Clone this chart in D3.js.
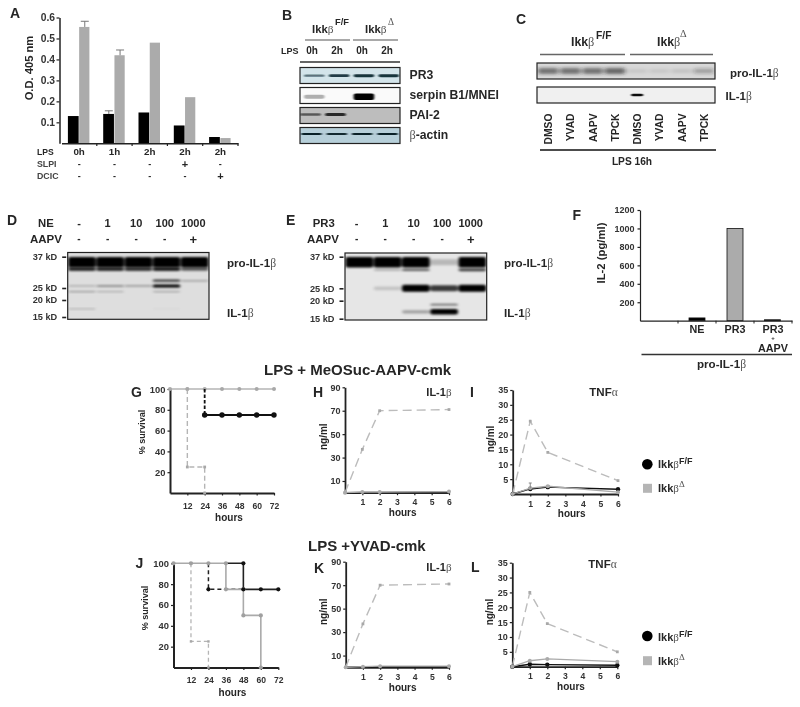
<!DOCTYPE html>
<html><head><meta charset="utf-8">
<script src="https://cdn.jsdelivr.net/npm/d3@7/dist/d3.min.js"></script>
<style>
html,body{margin:0;padding:0;background:#fff}
svg{display:block;filter:blur(0.35px)}
text{font-family:"Liberation Sans",Arial,sans-serif;font-weight:bold;fill:#262626}
</style></head><body><div id="c"></div>
<script>
// Panel A
const aGroups=["0h","1h","2h","2h ","2h  "];
const aBlack=[0.13,0.14,0.147,0.085,0.03];
const aGray=[0.555,0.42,0.48,0.22,0.025];
const aBlackErr=[0,0.015,0,0,0];
const aGrayErr=[0.027,0.025,0,0,0];
const aTicks=[0.1,0.2,0.3,0.4,0.5,0.6];
const aSLPI=["-","-","-","+","-"];
const aDCIC=["-","-","-","-","+"];
// Panel B
const bHeaders=["0h","2h","0h","2h"];
const bPR3=[0.6,0.9,0.95,0.95];
const bSerpin=[0.3,0,1,0];
const bPAI=[0.6,0.85,0,0];
const bActin=[0.95,0.9,0.95,0.95];
// Panel C
const cLanes=["DMSO","YVAD","AAPV","TPCK","DMSO","YVAD","AAPV","TPCK"];
const cPro=[0.55,0.55,0.55,0.6,0.08,0.08,0.1,0.3];
const cMature=[0,0,0,0,0.95,0,0,0];
// Panels D and E
const kdLabels=[37,25,20,15];
const doseLabels=["-","1","10","100","1000"];
const aapvRow=["-","-","-","-","+"];
const dKd=[34.9,32.3,27.8,25.8,23.5,17.4];
const dBands=[[1,1,1,1,1],[0.8,0.8,0.75,0.85,0.6],[0,0,0,0.75,0.3],[0.2,0.35,0.3,1,0],[0.35,0.25,0,0.3,0],[0.22,0,0,0.05,0]];
const eKd=[34.9,32,25,18.9,16.9];
const eBands=[[1,1,1,0.2,1],[0,0.28,0.6,0,0.75],[0,0.15,1,0.75,1],[0,0,0,0.55,0],[0,0,0.3,1,0]];
// Panel F
const fCats=["","NE","PR3","PR3+AAPV"];
const fValues=[0,30,1000,10];
const fTicks=[200,400,600,800,1000,1200];
// Survival panels
const survTicks=[20,40,60,80,100];
const survHours=[12,24,36,48,60,72];
const gGrayHours=[0,12,24,36,48,60,72];
const gGraySurv=[100,100,100,100,100,100,100];
const gDashHours=[12,12,24,24];
const gDashSurv=[100,25,25,0];
const gDropHours=[24,24];
const gDropSurv=[100,75];
const gBlackHours=[24,36,48,60,72];
const gBlackSurv=[75,75,75,75,75];
const jBlackHours=[36,48,48,60,72];
const jBlackSurv=[100,100,75,75,75];
const jBlackDashHours=[24,24,36,48];
const jBlackDashSurv=[100,75,75,75];
const jBlackMarkHours=[24,48,48,60,72];
const jBlackMarkSurv=[75,100,75,75,75];
const jGrayHours=[0,12,24,36,36,48,48,60,60];
const jGraySurv=[100,100,100,100,75,75,50,50,0];
const jDashHours=[12,12,24,24];
const jDashSurv=[100,25,25,0];
// Cytokine panels
const tHours=[0,1,2,6];
const hourTicks=[1,2,3,4,5,6];
const il1Ticks=[10,30,50,70,90];
const tnfTicks=[5,10,15,20,25,30,35];
const hDash=[0,37,70,71];
const hGray=[0,0.5,0.5,1];
const hBlack=[0,0.3,0.3,0.5];
const iDash=[0,24.5,14,4.5];
const iGray=[0,2,2.6,0.6];
const iBlack=[0,1.7,2.3,1.6];
const kDash=[0,37,70,71];
const kGray=[0,0.5,1,1];
const kBlack=[0,0.3,0.6,0.6];
const lDash=[0,25,14.5,5];
const lGray=[0,2,2.6,1.7];
const lBlack=[0,0.8,0.7,0.5];

const svg=d3.select("#c").append("svg").attr("width",800).attr("height",707).attr("viewBox","0 0 800 707");
const defs=svg.append("defs");
[["1.2 0.6","b06"],["1.4 0.9","b1"],["2.2 1.6","b16"]].forEach(([s,id])=>defs.append("filter").attr("id",id).attr("x","-30%").attr("y","-100%").attr("width","160%").attr("height","300%").append("feGaussianBlur").attr("stdDeviation",s));

function T(x,y,s,size,o={}){
  const t=svg.append("text").attr("x",x).attr("y",y).style("font-size",size+"px").text(s);
  if(o.anchor)t.attr("text-anchor",o.anchor);
  if(o.rotate)t.attr("transform",`rotate(-90 ${x} ${y})`);
  if(o.fill)t.style("fill",o.fill);
  if(o.weight)t.style("font-weight",o.weight);
  return t;
}
function G(x,y,pre,greek,post,size,o={}){
  const t=T(x,y,"",size,o);
  if(pre)t.append("tspan").text(pre);
  t.append("tspan").text(greek).style("font-family","'Liberation Serif',serif").style("font-weight","normal").style("fill","#555");
  if(post)t.append("tspan").text(post);
  return t;
}
function L(x1,y1,x2,y2,c="#555",w=1.2){
  svg.append("line").attr("x1",x1).attr("y1",y1).attr("x2",x2).attr("y2",y2).attr("stroke",c).attr("stroke-width",w);
}
function axisStyle(g,w,c,size){
  g.select(".domain").attr("stroke",c).attr("stroke-width",w);
  g.selectAll(".tick line").attr("stroke",c).attr("stroke-width",1.2);
  g.selectAll("text").style("font-size",size+"px").style("font-family","'Liberation Sans',sans-serif").style("font-weight","bold").style("fill","#333");
}
function ikk(x,y,sup,size,sx,sy){
  G(x,y,"Ikk","β","",size);
  if(sup==="F/F")T(sx,sy,"F/F",size-2);
  else G(sx,sy,"","Δ","",size-2);
}

// ---------- A ----------
(function(){
  T(10,18,"A",14);
  const y=d3.scaleLinear().domain([0,0.6]).range([143.3,17.5]);
  const x=d3.scaleBand().domain(aGroups).range([61.5,238]);
  const sub=d3.scaleBand().domain([0,1]).range([0,22.5]);
  const cx=d=>x(d)+x.bandwidth()/2;
  const off=cx(aGroups[0])-11.25-x(aGroups[0]);
  const f=svg.append("g").attr("filter","url(#a06)");
  defs.append("filter").attr("id","a06").append("feGaussianBlur").attr("stdDeviation",0.5);
  [[aBlack,"#050505",aBlackErr,0],[aGray,"#ababab",aGrayErr,1]].forEach(([vals,c,err,k])=>{
    f.selectAll(null).data(aGroups).join("rect")
      .attr("x",d=>x(d)+off+sub(k)).attr("width",sub.bandwidth()-(k?1:0.5))
      .attr("y",(d,i)=>y(vals[i])).attr("height",(d,i)=>y(0)-y(vals[i])).attr("fill",c);
    aGroups.forEach((d,i)=>{ if(err[i]>0){
      const ex=x(d)+off+sub(k)+sub.bandwidth()/2;
      L(ex,y(vals[i]),ex,y(vals[i]+err[i]),"#777",1);
      L(ex-4,y(vals[i]+err[i]),ex+4,y(vals[i]+err[i]),"#777",1);
    }});
  });
  const ay=svg.append("g").attr("transform","translate(59.5,0)").call(d3.axisLeft(y).tickValues(aTicks).tickFormat(d3.format(".1f")).tickSize(3).tickSizeOuter(0).tickPadding(1.5));
  axisStyle(ay,1.5,"#222",10.3);
  const ax=svg.append("g").attr("transform","translate(0,143.3)").call(d3.axisBottom(x).tickValues([]).tickSizeOuter(0));
  axisStyle(ax,1.5,"#222",9);
  aGroups.forEach(d=>L(x(d)+x.step(),143.3,x(d)+x.step(),146,"#222",1.2));
  T(33,68,"O.D. 405 nm",11.2,{anchor:"middle",rotate:true});
  T(37,155,"LPS",8.6);T(37,167,"SLPI",8.8,{fill:"#444"});T(37,179,"DCIC",8.8,{fill:"#444"});
  aGroups.forEach((d,i)=>{
    T(cx(d),155,d.trim(),9.8,{anchor:"middle"});
    T(cx(d),aSLPI[i]==="+"?168:167,aSLPI[i],aSLPI[i]==="+"?11:9,{anchor:"middle"});
    T(cx(d),aDCIC[i]==="+"?180:179,aDCIC[i],aDCIC[i]==="+"?11:9,{anchor:"middle"});
  });
})();

// ---------- generic blot ----------
let clipId=0;
function blot(o){
  const id="clip"+(clipId++);
  defs.append("clipPath").attr("id",id).append("rect").attr("x",o.x0).attr("y",o.y0).attr("width",o.x1-o.x0).attr("height",o.y1-o.y0);
  svg.append("rect").attr("x",o.x0).attr("y",o.y0).attr("width",o.x1-o.x0).attr("height",o.y1-o.y0).attr("fill",o.bg);
  const g=svg.append("g").attr("clip-path",`url(#${id})`);
  const lane=d3.scaleBand().domain(d3.range(o.n)).range(o.range).paddingInner(o.pad);
  o.rows.forEach(r=>{
    g.append("g").attr("filter",`url(#${r.blur||"b06"})`).selectAll("rect").data(r.values).join("rect")
      .attr("x",(d,i)=>lane(i)+(lane.bandwidth()*(1-(r.wf||1)))/2)
      .attr("width",lane.bandwidth()*(r.wf||1))
      .attr("y",d=>r.y-r.t*(0.45+0.55*d)/2)
      .attr("height",d=>r.t*(0.45+0.55*d))
      .attr("rx",2)
      .attr("fill",r.c||"#0a0a0a").attr("opacity",d=>Math.min(1,d));
  });
  svg.append("rect").attr("x",o.x0).attr("y",o.y0).attr("width",o.x1-o.x0).attr("height",o.y1-o.y0).attr("fill","none").attr("stroke",o.border||"#222").attr("stroke-width",1.2);
}

// ---------- B ----------
(function(){
  T(282,20,"B",14);
  ikk(312,33,"F/F",11.3,335,24.5);
  ikk(365,33,"D",11.3,388,25);
  L(305,40,350,40);L(353,40,398,40);
  T(281,54,"LPS",9);
  const h=d3.scalePoint().domain(d3.range(4)).range([312,387]);
  bHeaders.forEach((d,i)=>T(h(i),54,d,10,{anchor:"middle"}));
  L(300,62,400,62,"#666",2);
  const common={x0:300,x1:400,n:4,range:[304,399],pad:0.17};
  blot({...common,y0:67.5,y1:83.5,bg:"#d3e4ea",rows:[{y:75.7,values:bPR3,t:3,c:"#0b2a33"}]});
  blot({...common,y0:87.5,y1:103.5,bg:"#fafafa",rows:[{y:96.7,values:bSerpin,t:6.5,c:"#000"}]});
  blot({...common,range:[300,396],y0:107.5,y1:123.5,bg:"#bdbdbd",rows:[{y:114.5,values:bPAI,t:3.4,c:"#111"}]});
  blot({...common,range:[301,398],y0:127.5,y1:143.5,bg:"#b6cfd9",rows:[{y:134,values:bActin,t:2.2,c:"#05151c"}]});
  T(409.5,79,"PR3",12.2);T(409.5,99,"serpin B1/MNEI",12.2);T(409.5,119,"PAI-2",12.2);
  G(409.5,138.5,"","β","-actin",12.2);
})();

// ---------- C ----------
(function(){
  T(516,24,"C",14);
  ikk(571,46,"F/F",12.3,596,38.5);
  ikk(657,46,"D",12.3,680,37);
  L(540,54.5,625,54.5,"#666",1.4);L(630,54.5,713,54.5,"#666",1.4);
  const common={x0:537,x1:715,n:8,range:[538,714],pad:0.08};
  blot({...common,y0:63,y1:79,bg:"#d8d8d8",rows:[{y:71,values:cPro,t:8,blur:"b16",c:"#222"}]});
  blot({...common,y0:87,y1:103,bg:"#f0f0f0",rows:[{y:95,values:cMature,t:2.6,wf:0.6,blur:"b06",c:"#000"}]});
  const x=d3.scaleBand().domain(d3.range(8)).range([537,715]);
  cLanes.forEach((d,i)=>T(x(i)+x.bandwidth()/2+4,113.5,d,10.3,{anchor:"end",rotate:true}));
  L(540,150,716,150,"#111",1.4);
  T(632,164.5,"LPS 16h",10.2,{anchor:"middle"});
  G(730,77,"pro-IL-1","β","",11.5);
  G(725.5,99.5,"IL-1","β","",11.5);
})();

// ---------- D/E ----------
function gel(o){
  const y=d3.scaleLinear().domain(kdLabels).range(o.kdY);
  T(o.lx,225,o.label,14);
  T(o.nameX,226.7,o.name,11.3);
  T(o.aapvX,243,"AAPV",11.5);
  const top=d3.scalePoint().domain(d3.range(5)).range(o.topX);
  doseLabels.forEach((d,i)=>{
    T(top(i),226.7,d,11,{anchor:"middle"});
    T(top(i),aapvRow[i]==="+"?244:242,aapvRow[i],aapvRow[i]==="+"?13:10,{anchor:"middle"});
  });
  const rows=o.kd.map((k,i)=>{
    const first=i===0;
    return {y:y(k),values:o.bands[i],t:first?10.5:(o.thick[i]||2.5),blur:"b1",c:"#050505"};
  });
  blot({x0:o.x0,x1:o.x1,y0:o.y0,y1:o.y1,bg:o.bg,n:5,range:[o.x0+0.5,o.x1-0.5],pad:0.02,rows,border:"#222"});
  const a=svg.append("g").attr("transform",`translate(${o.x0-1.5},0)`).call(d3.axisLeft(y).tickValues(kdLabels).tickFormat(d=>d+" kD").tickSize(4).tickPadding(5).tickSizeOuter(0));
  a.select(".domain").remove();
  axisStyle(a,1,"#222",9.2);
  a.selectAll(".tick line").attr("stroke-width",1.6);
  G(o.labX,266.7,"pro-IL-1","β","",11.6);
  G(o.labX,316.7,"IL-1","β","",11.6);
}
gel({label:"D",lx:7,name:"NE",nameX:38,aapvX:30,topX:[79,193.3],x0:67.7,x1:209,y0:252.5,y1:319.3,kdY:[256.7,288,300,317],bg:"#dedede",
  kd:dKd,bands:dBands,thick:[0,4.5,2.5,3,2,2],labX:227});
gel({label:"E",lx:286,name:"PR3",nameX:312.7,aapvX:307,topX:[356.7,470.7],x0:345,x1:486.7,y0:253,y1:320,kdY:[256.7,288.3,300.7,318.7],bg:"#e6e6e6",
  kd:eKd,bands:eBands,thick:[0,3,7,2.5,5.5],labX:504});

// ---------- F ----------
(function(){
  T(572.5,220,"F",14);
  const y=d3.scaleLinear().domain([0,1200]).range([320.7,210]);
  const x=d3.scaleBand().domain(fCats).range([640,792]);
  svg.append("g").selectAll("rect").data(fCats).join("rect")
    .attr("x",d=>x(d)+x.bandwidth()/2-8+(d==="PR3+AAPV"?-0.5:0)).attr("width",16)
    .attr("y",(d,i)=>y(fValues[i])).attr("height",(d,i)=>y(0)-y(fValues[i]))
    .attr("fill",(d,i)=>fValues[i]>500?"#ababab":"#000").attr("stroke",(d,i)=>fValues[i]>0?"#111":"none").attr("stroke-width",0.8);
  const ay=svg.append("g").attr("transform","translate(640,0)").call(d3.axisLeft(y).tickValues(fTicks).tickSize(2.5).tickPadding(3).tickFormat(d3.format("d")).tickSizeOuter(0));
  axisStyle(ay,1.2,"#222",9);
  const ax=svg.append("g").attr("transform","translate(0,320.7)").call(d3.axisBottom(x).tickValues([]).tickSizeOuter(0));
  axisStyle(ax,1.2,"#222",9);
  fCats.forEach(d=>L(x(d)+x.step(),320.7,x(d)+x.step(),323.5,"#222",1));
  T(604.5,253,"IL-2 (pg/ml)",11.3,{anchor:"middle",rotate:true});
  const c=d=>x(d)+x.bandwidth()/2;
  T(c("NE"),332.5,"NE",10.8,{anchor:"middle"});
  T(c("PR3"),332.5,"PR3",10.8,{anchor:"middle"});
  T(c("PR3+AAPV"),332.5,"PR3",10.8,{anchor:"middle"});
  T(c("PR3+AAPV"),340,"+",6,{anchor:"middle"});
  T(c("PR3+AAPV"),351.5,"AAPV",10.8,{anchor:"middle"});
  L(641.5,354.5,792,354.5,"#333",1.3);
  G(721.5,368,"pro-IL-1","β","",11.6,{anchor:"middle"});
})();

// ---------- line panels ----------
const gc="#b5b5b5";
function lineSet(x,y,xs,ys,o){
  const pts=xs.map((d,i)=>[x(d),y(ys[i])]);
  svg.append("path").attr("d",d3.line()(pts)).attr("fill","none").attr("stroke",o.c).attr("stroke-width",o.w)
    .attr("stroke-dasharray",o.dash||null);
  const g=svg.append("g");
  if(o.shape==="circle")g.selectAll("circle").data(pts).join("circle").attr("cx",d=>d[0]).attr("cy",d=>d[1]).attr("r",o.r).attr("fill",o.fill||o.c).attr("stroke",o.ms||"none");
  if(o.shape==="square")g.selectAll("rect").data(pts).join("rect").attr("x",d=>d[0]-o.r).attr("y",d=>d[1]-o.r).attr("width",2*o.r).attr("height",2*o.r).attr("fill",o.fill||o.c);
}
function frame(o){
  const x=d3.scaleLinear().domain(o.xd).range(o.xr);
  const y=d3.scaleLinear().domain(o.yd).range(o.yr);
  const ay=svg.append("g").attr("transform",`translate(${o.xr[0]},0)`).call(d3.axisLeft(y).tickValues(o.yt).tickSize(2.5).tickPadding(o.pad||2).tickFormat(d3.format("d")).tickSizeOuter(0));
  axisStyle(ay,o.ayw||1.6,"#222",o.ys||9);
  const ax=svg.append("g").attr("transform",`translate(0,${o.yr[0]})`).call(d3.axisBottom(x).tickValues(o.xt).tickSize(2.5).tickPadding(o.xpad||4).tickFormat(d3.format("d")).tickSizeOuter(0));
  axisStyle(ax,1.8,"#222",8.6);
  return {x,y};
}
// G
(function(){
  T(131,397,"G",14);
  const {x,y}=frame({xd:[0,72],xr:[170,274],yd:[0,100],yr:[493,389],yt:survTicks,xt:survHours,xpad:7,ayw:2,ys:9.4});
  lineSet(x,y,gGrayHours,gGraySurv,{c:gc,w:1.6,shape:"circle",r:2,fill:"#a8a8a8"});
  lineSet(x,y,gDashHours,gDashSurv,{c:gc,w:1.4,dash:"5 3",shape:"square",r:1.4,fill:"#a8a8a8"});
  lineSet(x,y,gDropHours,gDropSurv,{c:"#111",w:1.8,dash:"3.5 2"});
  lineSet(x,y,gBlackHours,gBlackSurv,{c:"#111",w:2.2,shape:"circle",r:2.7});
  T(145,432,"% survival",9,{anchor:"middle",rotate:true});
  T(229,520.5,"hours",10,{anchor:"middle"});
})();
// J
(function(){
  T(135.5,568,"J",14);
  const {x,y}=frame({xd:[0,72],xr:[173.5,278.3],yd:[0,100],yr:[667.5,563.3],yt:survTicks,xt:survHours,xpad:7,ayw:2,ys:9.4});
  lineSet(x,y,jBlackHours,jBlackSurv,{c:"#222",w:1.6});
  lineSet(x,y,jBlackDashHours,jBlackDashSurv,{c:"#222",w:1.5,dash:"4 3"});
  lineSet(x,y,jDashHours,jDashSurv,{c:gc,w:1.3,dash:"4 3",shape:"square",r:1.2,fill:"#a8a8a8"});
  lineSet(x,y,jGrayHours,jGraySurv,{c:"#aaa",w:1.6,shape:"circle",r:2.1,fill:"#a0a0a0"});
  lineSet(x,y,jBlackMarkHours,jBlackMarkSurv,{c:"none",w:0,shape:"circle",r:2.1,fill:"#111"});
  T(148,608,"% survival",9,{anchor:"middle",rotate:true});
  T(232.5,695.5,"hours",10,{anchor:"middle"});
})();
// cytokine panels
function cyto(o){
  T(o.lx,o.ly,o.label,14);
  const {x,y}=frame({xd:[0,6],xr:o.xr,yd:o.yd,yr:o.yr,yt:o.yt,xt:hourTicks,ayw:1.8});
  lineSet(x,y,tHours,o.dash,{c:"#bcbcbc",w:1.4,dash:"9 5",shape:"square",r:1.4,fill:"#a8a8a8"});
  lineSet(x,y,tHours,o.black,{c:"#111",w:1.4,shape:o.blackMark?"circle":null,r:2.2});
  lineSet(x,y,tHours,o.gray,{c:"#aaa",w:1.3,shape:"circle",r:2,fill:"#aaa"});
  if(o.err){L(x(1),y(o.err[0]),x(1),y(o.err[1]),"#888",1);L(x(1)-1.5,y(o.err[1]),x(1)+1.5,y(o.err[1]),"#888",1);}
  T(o.nx,o.ny,"ng/ml",10,{anchor:"middle",rotate:true});
  T(o.hx,o.hy,"hours",10,{anchor:"middle"});
  if(o.title==="il")G(o.tx,o.ty,"IL-1","β","",11,{anchor:"end"});
  else G(o.tx,o.ty,"TNF","α","",11.5,{anchor:"end"});
}
cyto({label:"H",lx:313,ly:397,xr:[345,449],yd:[0,90],yr:[492.7,387.3],yt:il1Ticks,dash:hDash,gray:hGray,black:hBlack,nx:326.7,ny:436.7,hx:402.7,hy:515.7,title:"il",tx:451.5,ty:396});
cyto({label:"I",lx:470,ly:396.7,xr:[512.7,618],yd:[0,35],yr:[494,390],yt:tnfTicks,dash:iDash,gray:iGray,black:iBlack,blackMark:true,err:[2,3.7],nx:494,ny:439,hx:571.7,hy:516.7,title:"tnf",tx:617.7,ty:395.7});
cyto({label:"K",lx:314,ly:573,xr:[345.7,449],yd:[0,90],yr:[667.3,561.7],yt:il1Ticks,dash:kDash,gray:kGray,black:kBlack,nx:326.7,ny:611.7,hx:402.7,hy:690.7,title:"il",tx:451.5,ty:570.7});
cyto({label:"L",lx:471,ly:571.7,xr:[512.3,617.3],yd:[0,35],yr:[666.7,562.7],yt:tnfTicks,dash:lDash,gray:lGray,black:lBlack,blackMark:true,nx:493.3,ny:612,hx:571,hy:690,title:"tnf",tx:616.7,ty:568.3});

// titles
T(264,375,"LPS + MeOSuc-AAPV-cmk",15);
T(308,551,"LPS +YVAD-cmk",15);

// legends
function legend(cy,sy,t1,t2){
  svg.append("circle").attr("cx",647.3).attr("cy",cy).attr("r",5.3).attr("fill","#000");
  svg.append("rect").attr("x",643).attr("y",sy-4.5).attr("width",9).attr("height",9).attr("fill","#b5b5b5");
  ikk(658,t1,"F/F",11,679,t1-4);
  ikk(658,t2,"D",11,679,t2-5);
}
legend(464.3,488.3,468.3,492);
legend(636,660.7,640.5,664.5);
</script></body></html>
